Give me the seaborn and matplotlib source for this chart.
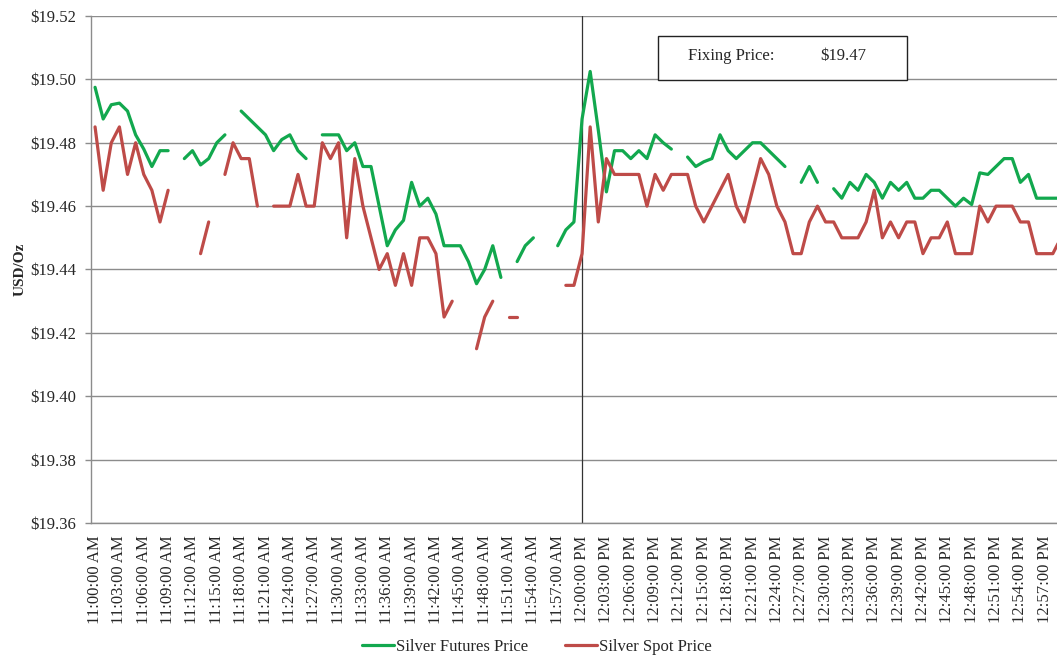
import numpy as np
import pandas as pd
import matplotlib
matplotlib.use("Agg")
import matplotlib.pyplot as plt
import seaborn as sns

nan = np.nan

# minute-by-minute prices, 11:00 AM .. 12:59 PM (gaps = no quote)
futures = [19.4975, 19.4875, 19.492, 19.4925, 19.490, 19.4825, 19.478, 19.4725, 19.4775, 19.4775,
           nan, 19.475, 19.4775, 19.473, 19.475, 19.480, 19.4825, nan, 19.490, 19.4875,
           19.485, 19.4825, 19.4775, 19.481, 19.4825, 19.4775, 19.475, nan, 19.4825, 19.4825,
           19.4825, 19.4775, 19.480, 19.4725, 19.4725, 19.460, 19.4475, 19.4525, 19.4555, 19.4675,
           19.460, 19.4625, 19.4575, 19.4475, 19.4475, 19.4475, 19.4425, 19.4355, 19.440, 19.4475,
           19.4375, nan, 19.4425, 19.4475, 19.450, nan, nan, 19.4475, 19.4525, 19.455,
           19.4875, 19.5025, 19.484, 19.4645, 19.4775, 19.4775, 19.475, 19.4775, 19.475, 19.4825,
           19.480, 19.478, nan, 19.4755, 19.4725, 19.474, 19.475, 19.4825, 19.4775, 19.475,
           19.4775, 19.480, 19.480, 19.4775, 19.475, 19.4725, nan, 19.4675, 19.4725, 19.4675,
           nan, 19.4655, 19.4625, 19.4675, 19.465, 19.470, 19.4675, 19.4625, 19.4675, 19.465,
           19.4675, 19.4625, 19.4625, 19.465, 19.465, 19.4625, 19.460, 19.4625, 19.4605, 19.4705,
           19.470, 19.4725, 19.475, 19.475, 19.4675, 19.470, 19.4625, 19.4625, 19.4625, 19.4625]

spot = [19.485, 19.465, 19.480, 19.485, 19.470, 19.480, 19.470, 19.465, 19.455, 19.465,
        nan, nan, nan, 19.445, 19.455, nan, 19.470, 19.480, 19.475, 19.475,
        19.460, nan, 19.460, 19.460, 19.460, 19.470, 19.460, 19.460, 19.480, 19.475,
        19.480, 19.450, 19.475, 19.460, 19.450, 19.440, 19.445, 19.435, 19.445, 19.435,
        19.450, 19.450, 19.445, 19.425, 19.430, nan, nan, 19.415, 19.425, 19.430,
        nan, 19.425, 19.425, nan, nan, nan, nan, nan, 19.435, 19.435,
        19.445, 19.485, 19.455, 19.475, 19.470, 19.470, 19.470, 19.470, 19.460, 19.470,
        19.465, 19.470, 19.470, 19.470, 19.460, 19.455, 19.460, 19.465, 19.470, 19.460,
        19.455, 19.465, 19.475, 19.470, 19.460, 19.455, 19.445, 19.445, 19.455, 19.460,
        19.455, 19.455, 19.450, 19.450, 19.450, 19.455, 19.465, 19.450, 19.455, 19.450,
        19.455, 19.455, 19.445, 19.450, 19.450, 19.455, 19.445, 19.445, 19.445, 19.460,
        19.455, 19.460, 19.460, 19.460, 19.455, 19.455, 19.445, 19.445, 19.445, 19.450]

times = pd.date_range("2020-01-01 11:00", periods=120, freq="min")
time_labels = [t.strftime("%I:%M:%S %p").lstrip("0") for t in times]
series_names = ["Silver Futures Price", "Silver Spot Price"]
series_colors = ["#12A84E", "#BE4B48"]
fixing_price = 19.47
y_ticks = [19.36, 19.38, 19.40, 19.42, 19.44, 19.46, 19.48, 19.50, 19.52]

# long-form table, one "seg" id per unbroken run so gaps stay as gaps
rows = []
for name, vals in zip(series_names, [futures, spot]):
    seg = 0
    for i, v in enumerate(vals):
        if np.isnan(v):
            seg += 1
            continue
        rows.append({"idx": i, "price": v, "series": name, "seg": f"{name}-{seg}"})
df = pd.DataFrame(rows)

sns.set_style("white")
plt.rcParams["font.family"] = ["Liberation Serif", "DejaVu Serif"]

fig = plt.figure(figsize=(10.57, 6.57), dpi=100)
W, H = 1057, 657
x0, x1, ytop, ybot = 91, 1065, 16, 523
ax = fig.add_axes([x0 / W, 1 - ybot / H, (x1 - x0) / W, (ybot - ytop) / H])

sns.lineplot(data=df, x="idx", y="price", hue="series", units="seg", estimator=None,
             palette=dict(zip(series_names, series_colors)), linewidth=2.3, ax=ax, sort=True)

ax.set_xlim(-0.5, 119.5)
ax.set_ylim(19.36, 19.52)
ax.set_yticks(y_ticks)
ax.set_yticklabels([f"${v:.2f}" for v in y_ticks], fontsize=12)
ax.yaxis.grid(True, color="#8c8c8c", linewidth=1.0)
ax.xaxis.grid(False)

ax.set_xticks(np.arange(0, 120, 3))
ax.set_xticklabels(time_labels[::3], rotation=90, fontsize=12)
ax.set_xticks(np.arange(-0.5, 120, 1), minor=True)
ax.tick_params(axis="x", which="major", length=0, pad=9)
ax.tick_params(axis="x", which="minor", length=4, color="#8c8c8c", width=1)
ax.tick_params(axis="y", length=4, color="#8c8c8c", width=1, pad=6.5, left=True)

for side in ["top", "right"]:
    ax.spines[side].set_visible(False)
for side in ["left", "bottom"]:
    ax.spines[side].set_color("#8c8c8c")
    ax.spines[side].set_linewidth(1.0)

ax.set_xlabel("")
ax.set_ylabel("USD/Oz", fontsize=11, fontweight="bold", labelpad=3)

# 12:00 fixing marker
ax.axvline(60, color="#333333", linewidth=0.9, zorder=1)

# fixing price box
fig.patches.append(plt.Rectangle((658 / W, 1 - 80 / H), (907 - 658) / W, (80 - 36) / H,
                                 transform=fig.transFigure, facecolor="white",
                                 edgecolor="#222222", linewidth=1.0))
fig.text(688 / W, 1 - 56 / H, "Fixing Price:", fontsize=12, va="center", ha="left")
fig.text(820 / W, 1 - 56 / H, f"${fixing_price:.2f}", fontsize=12, va="center", ha="left")

sns.move_legend(ax, "center", bbox_to_anchor=(537 / W, 1 - 647 / H),
                bbox_transform=fig.transFigure, ncol=2, frameon=False, title=None,
                fontsize=12, handlelength=1.9, handletextpad=0.15, columnspacing=2.2)

fig.savefig("out.png", dpi=100)
